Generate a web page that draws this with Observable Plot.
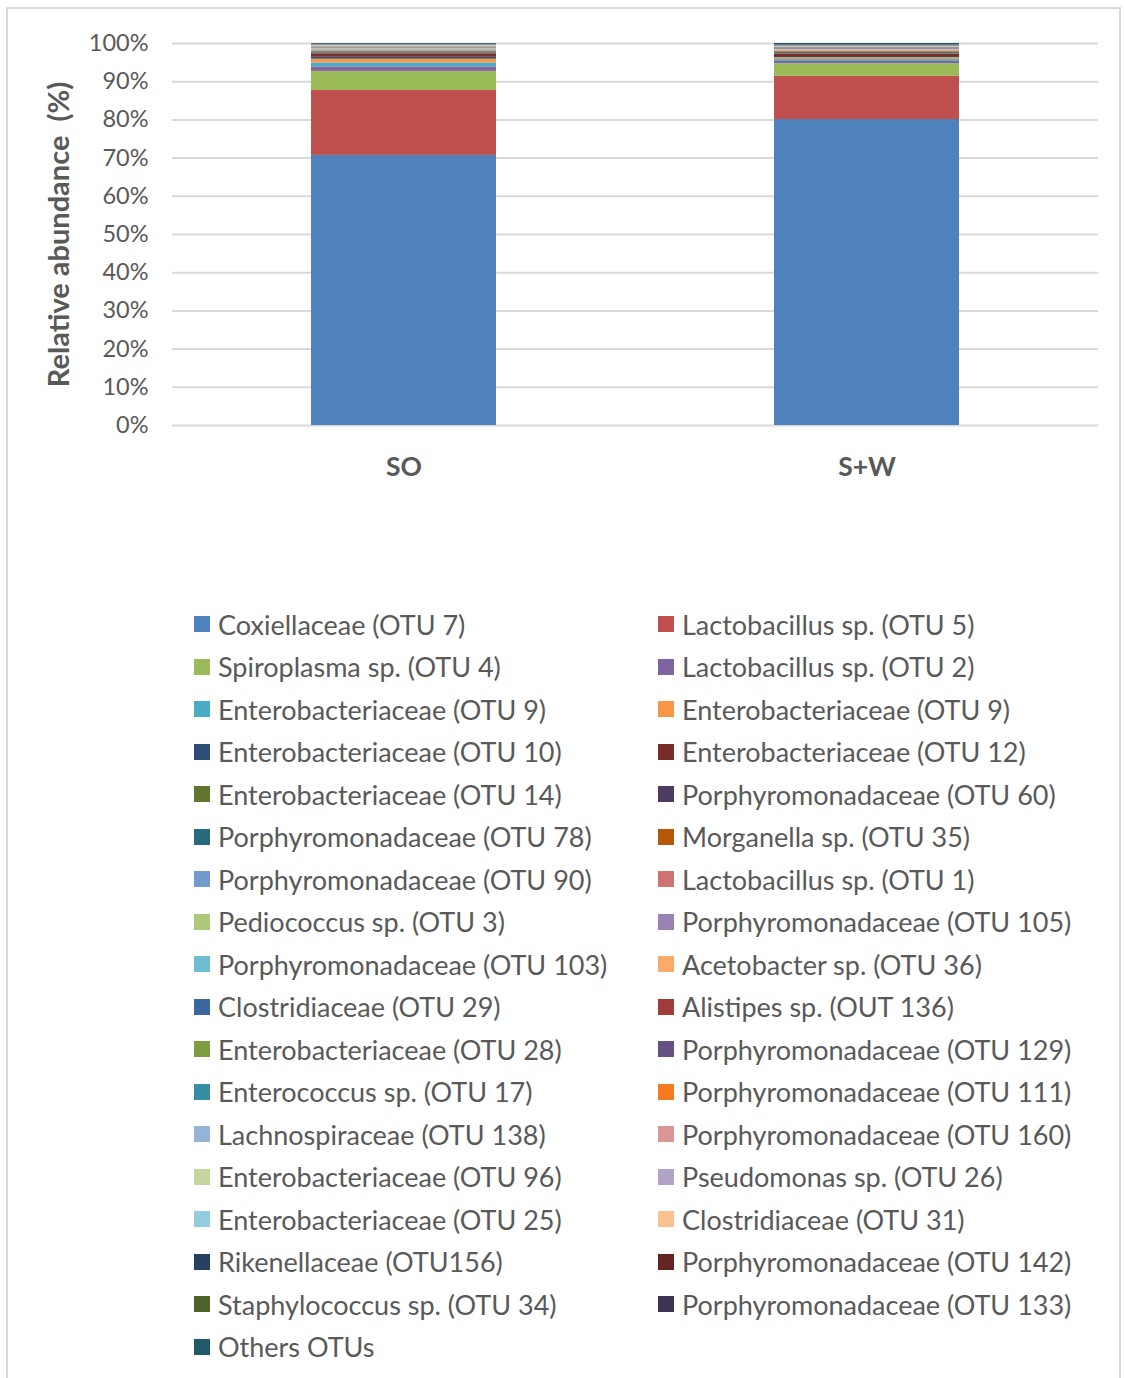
<!DOCTYPE html>
<html>
<head>
<meta charset="utf-8">
<script src="https://cdn.jsdelivr.net/npm/d3@7"></script>
<script src="https://cdn.jsdelivr.net/npm/@observablehq/plot@0.6"></script>
<style>
  html, body { margin: 0; padding: 0; background: #fff; }
  body { width: 1125px; height: 1378px; position: relative; overflow: hidden; font-family: Lato, "Open Sans", sans-serif; }
  #frame { position: absolute; left: 6px; top: 7px; width: 1115px; height: 1400px; border: 2px solid #D9D9D9; box-sizing: border-box; }
  #chart { position: absolute; left: 0; top: 0; }
  #chart svg { font-family: Lato, "Open Sans", sans-serif; }
  #chart g[aria-label="y-axis tick label"] text { font-size: 23.5px; fill: #595959; }
  #chart g[aria-label="x-axis tick label"] text { font-size: 26.5px; font-weight: bold; fill: #595959; }
  #chart g[aria-label="y-axis label"] text { font-size: 29px; font-weight: bold; fill: #595959; white-space: pre; }
  #legend { position: absolute; left: 194px; top: 603px; display: grid; grid-template-columns: 464px 464px; grid-auto-rows: 42.5px; }
  .item { display: flex; align-items: center; font-size: 27px; color: #595959; white-space: nowrap; }
  .sw { width: 16px; height: 16px; margin-right: 8px; flex: none; }
</style>
</head>
<body>
<div id="frame"></div>
<div id="chart"></div>
<div id="legend"></div>
<script>
const samples = ["SO", "S+W"];
const names = [
  "Coxiellaceae (OTU 7)", "Lactobacillus sp. (OTU 5)",
  "Spiroplasma sp. (OTU 4)", "Lactobacillus sp. (OTU 2)",
  "Enterobacteriaceae (OTU 9)", "Enterobacteriaceae (OTU 9)",
  "Enterobacteriaceae (OTU 10)", "Enterobacteriaceae (OTU 12)",
  "Enterobacteriaceae (OTU 14)", "Porphyromonadaceae (OTU 60)",
  "Porphyromonadaceae (OTU 78)", "Morganella sp. (OTU 35)",
  "Porphyromonadaceae (OTU 90)", "Lactobacillus sp. (OTU 1)",
  "Pediococcus sp. (OTU 3)", "Porphyromonadaceae (OTU 105)",
  "Porphyromonadaceae (OTU 103)", "Acetobacter sp. (OTU 36)",
  "Clostridiaceae (OTU 29)", "Alistipes sp. (OUT 136)",
  "Enterobacteriaceae (OTU 28)", "Porphyromonadaceae (OTU 129)",
  "Enterococcus sp. (OTU 17)", "Porphyromonadaceae (OTU 111)",
  "Lachnospiraceae (OTU 138)", "Porphyromonadaceae (OTU 160)",
  "Enterobacteriaceae (OTU 96)", "Pseudomonas sp. (OTU 26)",
  "Enterobacteriaceae (OTU 25)", "Clostridiaceae (OTU 31)",
  "Rikenellaceae (OTU156)", "Porphyromonadaceae (OTU 142)",
  "Staphylococcus sp. (OTU 34)", "Porphyromonadaceae (OTU 133)",
  "Others OTUs"
];
const colors = [
  "#4F81BD", "#C0504D", "#9BBB59", "#8064A2", "#4BACC6", "#F79646",
  "#2C4D75", "#772C2A", "#5F7530", "#4D3B62", "#276A7C", "#B65708",
  "#729ACA", "#CD7371", "#AFC97A", "#9983B5", "#6FBDD1", "#F9AB6B",
  "#3A679C", "#9F3B38", "#7E9C40", "#664F83", "#358EA6", "#F47B20",
  "#95B3D7", "#D99694", "#C3D69B", "#B3A2C7", "#93CDDD", "#FAC090",
  "#254061", "#632523", "#4F6228", "#3F3151", "#215968"
];
const soValues = [
  70.7, 17.0, 5.0, 1.2, 1.0, 1.0, 0.5, 0.9,
  0.2, 0.15, 0.15, 0.1, 0.2, 0.1, 0.15, 0.1, 0.1, 0.1,
  0.1, 0.1, 0.1, 0.05, 0.1, 0.05, 0.15, 0.05, 0.05, 0.05,
  0.05, 0.1, 0.05, 0.05, 0.05, 0.05, 0.2
];
const swValues = [
  80.1, 11.3, 3.3, 0.6, 0.5, 0.5, 0.3, 0.6,
  0.2, 0.2, 0.1, 0.2, 0.1, 0.1, 0.1, 0.1, 0.1, 0.1,
  0.1, 0.1, 0.1, 0.1, 0.05, 0.05, 0.1, 0.05, 0.05, 0.05,
  0.05, 0.05, 0.1, 0.1, 0.05, 0.05, 0.35
];
const yTicks = [0, 10, 20, 30, 40, 50, 60, 70, 80, 90, 100];

const ids = names.map((n, i) => i);
const data = [];
[soValues, swValues].forEach((vals, s) => {
  vals.forEach((v, i) => data.push({sample: samples[s], id: i, name: names[i], value: v}));
});

const plot = Plot.plot({
  width: 1125,
  height: 500,
  marginLeft: 172,
  marginRight: 27,
  marginTop: 43,
  marginBottom: 75,
  x: {domain: samples, paddingInner: 0.6, paddingOuter: 0.3},
  y: {domain: [0, 100]},
  color: {type: "ordinal", domain: ids, range: colors},
  marks: [
    Plot.gridY(yTicks, {stroke: "#D9D9D9", strokeOpacity: 1, strokeWidth: 2}),
    Plot.barY(data, {x: "sample", y: "value", fill: "id", order: null}),
    Plot.axisY(yTicks, {tickSize: 0, tickPadding: 24, tickFormat: d => d + "%",
      label: "Relative abundance  (%)", labelAnchor: "center", labelOffset: 124, labelArrow: "none"}),
    Plot.axisX({tickSize: 0, tickPadding: 32, label: null})
  ]
});
document.getElementById("chart").appendChild(plot);

const color = plot.scale("color");
const legend = document.getElementById("legend");
ids.forEach(i => {
  const item = document.createElement("div");
  item.className = "item";
  const sw = document.createElement("span");
  sw.className = "sw";
  sw.style.background = color.apply(i);
  const t = document.createElement("span");
  t.textContent = names[i];
  item.appendChild(sw);
  item.appendChild(t);
  legend.appendChild(item);
});
</script>
</body>
</html>
